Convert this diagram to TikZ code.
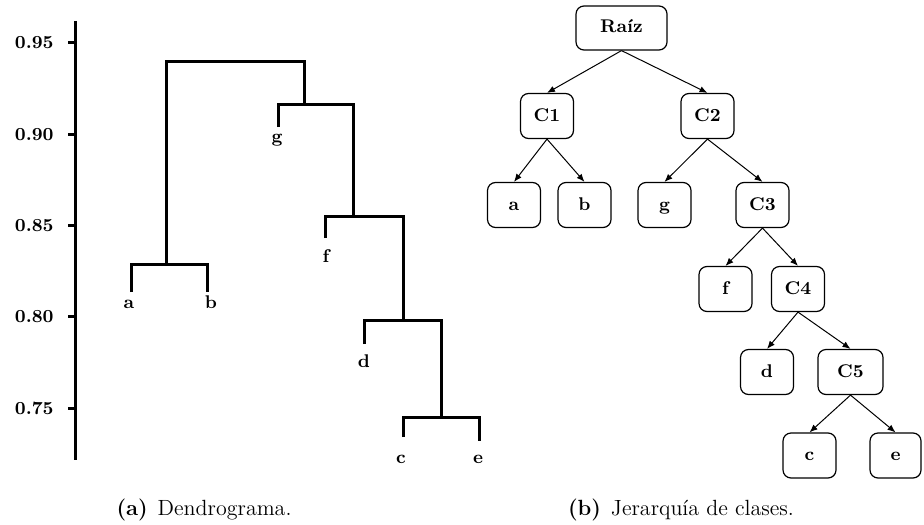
\documentclass[tikz,border=0pt]{standalone}
\usepackage{fontspec}
\usetikzlibrary{arrows.meta}
\begin{document}
\begin{tikzpicture}[x=0.5pt,y=-0.5pt,
  dend/.style={line width=1.5pt},
  lbl/.style={font=\fontsize{9.2}{11}\selectfont\bfseries, inner sep=0pt},
  cls/.style={draw, line width=0.6pt, rounded corners=4pt,
    minimum width=26.5pt, minimum height=22.5pt, inner sep=2pt,
    font=\fontsize{9.2}{11}\selectfont\bfseries, text height=6pt, text depth=1pt},
  edge/.style={line width=0.5pt, -{Latex[length=4pt,width=3.2pt]}},
  captext/.style={font=\fontsize{11}{13}\selectfont, inner sep=0pt, anchor=base}]
\useasboundingbox (0,0) rectangle (924,524);

% ---------- dendrogram: axis ----------
\coordinate (axtop) at (75,21);
\coordinate (axbot) at (75,460);
\draw[dend] (axtop) -- (axbot);
\foreach \t/\yy [count=\i] in {0.95/43, 0.90/134.25, 0.85/225.5, 0.80/316.75, 0.75/408} {
  \coordinate (tk\i) at (68,\yy);
  \coordinate (ta\i) at (75,\yy);
  \draw[dend] (tk\i) -- (ta\i);
  \node[lbl, anchor=east] (tl\i) at (54,\yy) {\t};
}

% ---------- dendrogram: leaves and merges ----------
\coordinate (la) at (131,292);
\coordinate (lb) at (207,292);
\coordinate (lg) at (278,127);
\coordinate (lf) at (325,238);
\coordinate (ld) at (364,344);
\coordinate (lc) at (403,437);
\coordinate (le) at (479,441);

\coordinate (mab)   at (166,264);
\coordinate (mce)   at (441,417);
\coordinate (md)    at (403,320);
\coordinate (mf)    at (353,216);
\coordinate (mg)    at (304,104);
\coordinate (mroot) at (235,62);

\draw[dend] (la) |- (mab) -| (lb);
\draw[dend] (lc) |- (mce) -| (le);
\draw[dend] (ld) |- (md) -| (mce);
\draw[dend] (lf) |- (mf) -| (md);
\draw[dend] (lg) |- (mg) -| (mf);
\draw[dend] (mab) |- (mroot) -| (mg);

\node[lbl, anchor=base] (na) at (129,308) {a};
\node[lbl, anchor=base] (nb) at (211,308) {b};
\node[lbl, anchor=base] (ng) at (277,142) {g};
\node[lbl, anchor=base] (nf) at (326,262) {f};
\node[lbl, anchor=base] (nd) at (364,367) {d};
\node[lbl, anchor=base] (nc) at (401,463) {c};
\node[lbl, anchor=base] (ne) at (478,463) {e};

% ---------- class hierarchy ----------
\node[cls, minimum width=45.5pt, minimum height=22pt] (raiz) at (621.5,28) {Raíz};
\node[cls] (c1) at (547,116) {C1};
\node[cls] (c2) at (707.5,116) {C2};
\node[cls] (ha) at (514,205) {a};
\node[cls] (hb) at (584.5,205) {b};
\node[cls] (hg) at (664.5,205) {g};
\node[cls] (c3) at (762.5,205) {C3};
\node[cls] (hf) at (725.5,289) {f};
\node[cls] (c4) at (798,289) {C4};
\node[cls] (hd) at (767,372) {d};
\node[cls, minimum width=32.5pt] (c5) at (850.5,372) {C5};
\node[cls] (hc) at (809.5,455.5) {c};
\node[cls, minimum width=25.5pt] (he) at (895.5,455.5) {e};

\draw[edge] (raiz.south) -- (c1.north);
\draw[edge] (raiz.south) -- (c2.north);
\draw[edge] (c1.south) -- (ha.north);
\draw[edge] (c1.south) -- (hb.north);
\draw[edge] (c2.south) -- (hg.north);
\draw[edge] (c2.south) -- (c3.north);
\draw[edge] (c3.south) -- (hf.north);
\draw[edge] (c3.south) -- (c4.north);
\draw[edge] (c4.south) -- (hd.north);
\draw[edge] (c4.south) -- (c5.north);
\draw[edge] (c5.south) -- (hc.north);
\draw[edge] (c5.south) -- (he.north);

% ---------- captions ----------
\node[captext] (capa) at (204,515) {\textbf{(a)}\hspace{0.45em}Dendrograma.};
\node[captext] (capb) at (681,515) {\textbf{(b)}\hspace{0.45em}Jerarquía de clases.};
\end{tikzpicture}
\end{document}
